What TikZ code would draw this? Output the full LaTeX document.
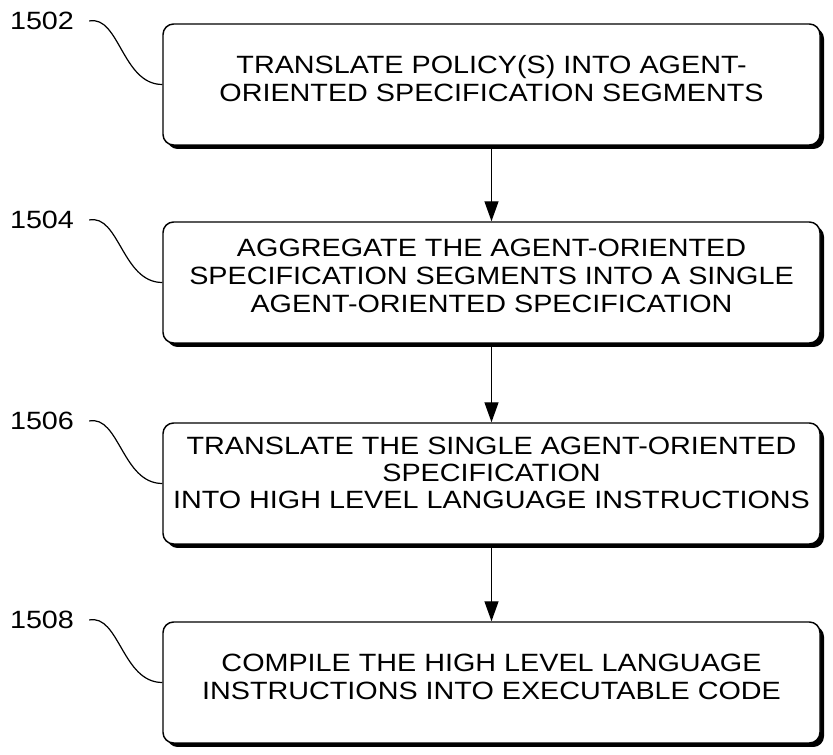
\documentclass[tikz,border=0pt]{standalone}
\usepackage{fontspec}
\setmainfont{Liberation Sans}[FakeStretch=1.15]
\usetikzlibrary{arrows.meta,shadows}
\begin{document}
\begin{tikzpicture}[x=0.75pt,y=-0.75pt,
  stepbox/.style={draw=black, line width=1.1pt, fill=white, rounded corners=8pt,
    minimum width=492.75pt, minimum height=90.75pt, inner sep=0pt,
    drop shadow={shadow xshift=3pt, shadow yshift=-3pt, fill=black, opacity=1}},
  steptext/.style={align=center, inner sep=0pt, font=\fontsize{18.75}{21}\selectfont},
  reflabel/.style={font=\fontsize{18.75}{21}\selectfont, inner sep=0pt, anchor=center},
  callout/.style={draw=black, line width=0.9pt},
  flow/.style={draw=black, line width=1pt, -{Triangle[length=15pt,width=10.5pt]}}]
\useasboundingbox (0,0) rectangle (833,755);

\node[stepbox] (b1) at (491.5,84.5) {};
\node[stepbox] (b2) at (491.5,282.5) {};
\node[stepbox] (b3) at (491.5,483.5) {};
\node[stepbox] (b4) at (491.5,682.5) {};

\node[steptext] (t1) at ([yshift=4.8pt]b1.center) {TRANSLATE POLICY(S) INTO AGENT-\\ORIENTED SPECIFICATION SEGMENTS};
\node[steptext] (t2) at ([yshift=5.2pt]b2.center) {AGGREGATE THE AGENT-ORIENTED\\SPECIFICATION SEGMENTS INTO A SINGLE\\AGENT-ORIENTED SPECIFICATION};
\node[steptext, font=\fontsize{18.75}{20.25}\selectfont] (t3) at ([yshift=8.2pt]b3.center) {TRANSLATE THE SINGLE AGENT-ORIENTED\\SPECIFICATION\\INTO HIGH LEVEL LANGUAGE INSTRUCTIONS};
\node[steptext] (t4) at ([yshift=4.5pt]b4.center) {COMPILE THE HIGH LEVEL LANGUAGE\\INSTRUCTIONS INTO EXECUTABLE CODE};

\node[reflabel] (l1) at (42,21) {1502};
\node[reflabel] (l2) at (42,220) {1504};
\node[reflabel] (l3) at (42,421) {1506};
\node[reflabel] (l4) at (42,620) {1508};

\foreach \l/\b in {l1/b1,l2/b2,l3/b3,l4/b4}{
  \draw[callout] ([xshift=11.25pt]\l.east) .. controls +(30,-6) and +(-40,0) .. (\b.west);
}

\draw[flow] (b1.south) -- (b2.north);
\draw[flow] (b2.south) -- (b3.north);
\draw[flow] (b3.south) -- (b4.north);
\end{tikzpicture}
\end{document}
